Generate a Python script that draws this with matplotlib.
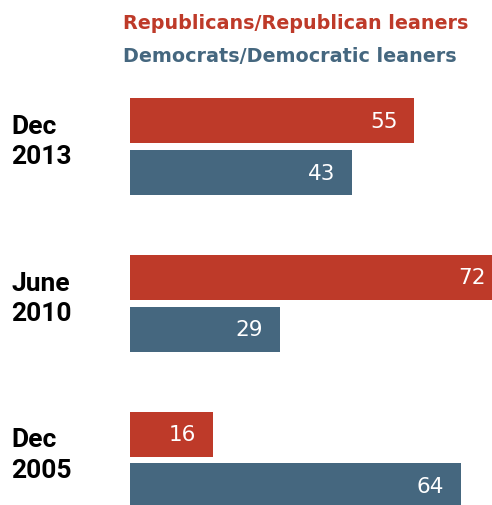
import matplotlib
matplotlib.use('Agg')
import matplotlib.pyplot as plt

periods = ['Dec\n2013', 'June\n2010', 'Dec\n2005']
rep_vals = [55, 72, 16]
dem_vals = [43, 29, 64]
series_names = ['Republicans/Republican leaners', 'Democrats/Democratic leaners']

RED = '#BE3A29'
BLUE = '#45677F'

plt.rcParams['font.family'] = ['DejaVu Sans']

W, H = 492, 506
fig = plt.figure(figsize=(W / 100, H / 100), dpi=100)
# axes runs from x=130px to the right edge, full height
ax = fig.add_axes([130 / W, 0, 1 - 130 / W, 1])
ax.set_xlim(0, 70)
group_px = 156.75
top = -147.5 / group_px
ax.set_ylim((H - 147.5) / group_px, top)
ax.axis('off')

bh = 45 / group_px
off = 26 / group_px
for i, (r, d) in enumerate(zip(rep_vals, dem_vals)):
    ax.barh(i - off, r, height=bh, color=RED, left=0)
    ax.barh(i + off, d, height=bh, color=BLUE, left=0)
    for v, y in ((r, i - off), (d, i + off)):
        ax.annotate(str(v), (v, y), xytext=(-17, 0), textcoords='offset pixels',
                    ha='right', va='center', color='white', fontsize=15.5,
                    annotation_clip=False)
    ax.annotate(periods[i], (0, i - 0.035), xycoords=('figure pixels', 'data'),
                xytext=(11, 0), textcoords='offset pixels',
                ha='left', va='center', fontsize=19, fontweight='bold',
                family='Roboto', color='black', linespacing=1.32,
                annotation_clip=False)

fig.text(123 / W, 1 - 23.5 / H, series_names[0], color=RED, fontsize=13.8,
         fontweight='bold', ha='left', va='center')
fig.text(123 / W, 1 - 56 / H, series_names[1], color=BLUE, fontsize=13.8,
         fontweight='bold', ha='left', va='center')

fig.savefig('out.png', dpi=100, facecolor='white')
